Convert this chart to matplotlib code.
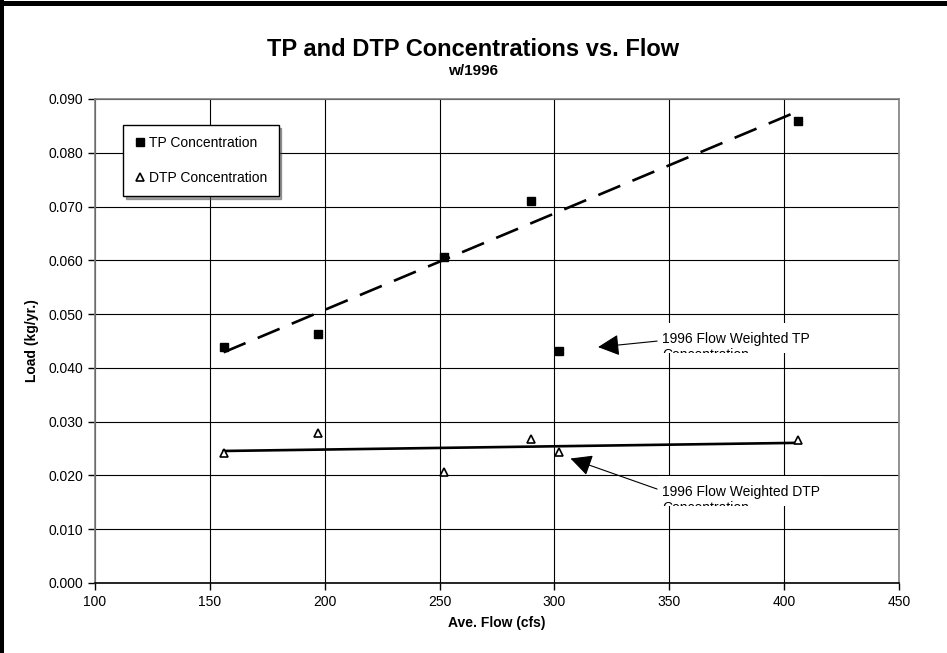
import numpy as np
import matplotlib.pyplot as plt
from matplotlib.lines import Line2D
from matplotlib.patches import Rectangle
from matplotlib.transforms import Bbox, TransformedBbox

plt.rcParams['font.family'] = ['Liberation Sans', 'DejaVu Sans']

# average flow (cfs) for each year used in the trend
flow = [156, 197, 252, 290, 406]
tp_conc = [0.0439, 0.0463, 0.0607, 0.0711, 0.0859]
dtp_conc = [0.0241, 0.0278, 0.0207, 0.0268, 0.0265]

# 1996 flow weighted values
flow_1996 = 302
tp_1996 = 0.0432
dtp_1996 = 0.0243

x_ticks = [100, 150, 200, 250, 300, 350, 400, 450]
y_ticks = [0.000, 0.010, 0.020, 0.030, 0.040, 0.050, 0.060, 0.070, 0.080, 0.090]

fig = plt.figure(figsize=(9.47, 6.53), dpi=100)
ax = fig.add_axes([0.1003, 0.1072, 0.8490, 0.7412])

ax.set_xlim(100, 450)
ax.set_ylim(0, 0.09)
ax.set_xticks(x_ticks)
ax.set_yticks(y_ticks)
ax.set_yticklabels(['%.3f' % v for v in y_ticks])
ax.tick_params(labelsize=10, length=5, width=1, color='black')
ax.grid(True, color='black', linewidth=0.8)
ax.set_axisbelow(True)
for side in ['left', 'top', 'right']:
    ax.spines[side].set_color('#808080')
    ax.spines[side].set_linewidth(1.2)
ax.spines['bottom'].set_color('black')
ax.spines['bottom'].set_linewidth(1.2)

# linear trendlines
fx = np.array([min(flow), max(flow)])
tp_fit = np.polyfit(flow, tp_conc, 1)
dtp_fit = np.polyfit(flow, dtp_conc, 1)
ax.plot(fx, np.polyval(tp_fit, fx), color='black', lw=1.9, dashes=(9, 5), zorder=3)
ax.plot(fx, np.polyval(dtp_fit, fx), color='black', lw=1.9, zorder=3)

ax.plot(flow + [flow_1996], tp_conc + [tp_1996], 's', color='black', ms=5.8, zorder=4)
ax.plot(flow + [flow_1996], dtp_conc + [dtp_1996], '^', mfc='white', mec='black',
        mew=1.2, ms=6, zorder=4)

# callouts (text box is clipped, second line only partly shown)
def callout(text, box_y, txt_y, tail, tip, x1):
    box = Rectangle((345.5, box_y[0]), x1 - 345.5, box_y[1] - box_y[0], facecolor='white',
                    edgecolor='none', zorder=2.5)
    ax.add_patch(box)
    t = ax.text(346.8, txt_y, text + '\nConcentration', fontsize=10, va='top',
                ha='left', linespacing=1.2, zorder=3)
    t.set_clip_on(True)
    t.set_clip_box(TransformedBbox(Bbox.from_extents(345.5, box_y[0], x1, box_y[1]),
                                   ax.transData))
    ax.annotate('', xy=tip, xytext=tail,
                arrowprops=dict(arrowstyle='-|>', color='black', lw=0.8,
                                mutation_scale=33, shrinkA=0, shrinkB=0), zorder=5)

callout('1996 Flow Weighted TP', (0.04275, 0.04833), 0.04665,
        (344.7, 0.04498), (319.0, 0.04387), 412.1)
callout('1996 Flow Weighted DTP', (0.01431, 0.01989), 0.0182,
        (344.7, 0.01747), (307.0, 0.02315), 416.5)

handles = [Line2D([], [], marker='s', ls='none', color='black', ms=5.8),
           Line2D([], [], marker='^', ls='none', mfc='white', mec='black', mew=1.2, ms=6)]
leg = ax.legend(handles, ['TP Concentration', 'DTP Concentration'], loc='upper left',
                bbox_to_anchor=(0.0348, 0.946), borderaxespad=0, fontsize=10,
                fancybox=False, shadow=True, edgecolor='black', framealpha=1,
                labelspacing=1.5, handlelength=0.8, handletextpad=0.3, borderpad=0.8)
leg.get_frame().set_linewidth(1.0)

ax.set_xlabel('Ave. Flow (cfs)', fontsize=10, fontweight='bold', labelpad=5)
ax.set_ylabel('Load (kg/yr.)', fontsize=10, fontweight='bold', labelpad=7)

fig.text(0.5, 1 - 50 / 653, 'TP and DTP Concentrations vs. Flow', ha='center', va='center',
         fontsize=17, fontweight='bold')
fig.text(0.5, 1 - 71 / 653, 'w/1996', ha='center', va='center', fontsize=11, fontweight='bold')

# outer frame (top and left edges visible)
fig.add_artist(Line2D([0, 1], [1 - 2.5 / 653, 1 - 2.5 / 653], color='black', lw=3.6))
fig.add_artist(Line2D([2 / 947, 2 / 947], [0, 1], color='black', lw=2.9))

fig.savefig('out.png', dpi=100)
